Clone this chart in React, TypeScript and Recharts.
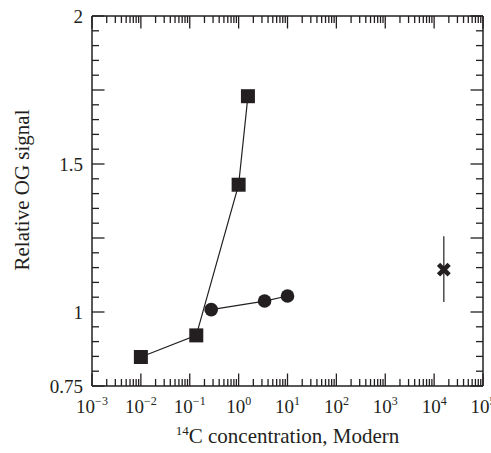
import { ScatterChart, Scatter, XAxis, YAxis, ErrorBar } from 'recharts'

const INK = '#231f20'
const FONT = '"Liberation Serif", "Times New Roman", serif'

// squares, joined by a line
const squareX = [0.01, 0.136, 1.0, 1.55]
const squareY = [0.848, 0.921, 1.43, 1.729]

// circles, joined by a line
const circleX = [0.275, 3.4, 10]
const circleY = [1.008, 1.037, 1.054]

// single cross with vertical error bar
const crossX = [15800]
const crossY = [1.143]
const crossErr = [[0.109, 0.113]]

// axis ticks
const xDecades = [-3, -2, -1, 0, 1, 2, 3, 4, 5]
const xTickLabels = ['\u22123', '\u22122', '\u22121', '0', '1', '2', '3', '4', '5']
const yTickValues = [0.75, 1, 1.5, 2]
const yTickLabels = ['0.75', '1', '1.5', '2']

const squareData = squareX.map((x, i) => ({ x, y: squareY[i] }))
const circleData = circleX.map((x, i) => ({ x, y: circleY[i] }))
const crossData = crossX.map((x, i) => ({ x, y: crossY[i], err: crossErr[i] }))

const xTicks: number[] = []
xDecades.forEach((d, i) => {
  if (i === xDecades.length - 1) {
    xTicks.push(Math.pow(10, d))
    return
  }
  for (let m = 1; m <= 9; m++) xTicks.push(m * Math.pow(10, d))
})

const yTicks = Array.from({ length: 26 }, (_, i) => +(0.75 + i * 0.05).toFixed(2))

const MAJOR = 12.5
const MINOR = 7

function isDecade(v: number) {
  const e = Math.log10(v)
  return Math.abs(e - Math.round(e)) < 1e-6
}

function isQuarter(v: number) {
  return Math.abs(v * 4 - Math.round(v * 4)) < 1e-6
}

function BottomTick(props: any) {
  const { x, y, payload } = props
  const v = payload.value
  const major = isDecade(v)
  const len = major ? MAJOR : MINOR
  const idx = xDecades.indexOf(Math.round(Math.log10(v)))
  return (
    <g>
      <line x1={x} y1={y} x2={x} y2={y - len} stroke={INK} strokeWidth={1.3} />
      {major && idx >= 0 && (
        <text x={x} y={y + 27} textAnchor="middle" fontFamily={FONT} fontSize={19} fill={INK}>
          10
          <tspan fontSize={12} dy={-8}>
            {xTickLabels[idx]}
          </tspan>
        </text>
      )}
    </g>
  )
}

function TopTick(props: any) {
  const { x, y, payload } = props
  const len = isDecade(payload.value) ? MAJOR : MINOR
  return <line x1={x} y1={y} x2={x} y2={y + len} stroke={INK} strokeWidth={1.3} />
}

function LeftTick(props: any) {
  const { x, y, payload } = props
  const v = payload.value
  const len = isQuarter(v) ? MAJOR : MINOR
  const idx = yTickValues.findIndex((t) => Math.abs(t - v) < 1e-6)
  return (
    <g>
      <line x1={x} y1={y} x2={x + len} y2={y} stroke={INK} strokeWidth={1.3} />
      {idx >= 0 && (
        <text x={x - 9} y={y} dy="0.36em" textAnchor="end" fontFamily={FONT} fontSize={19} fill={INK}>
          {yTickLabels[idx]}
        </text>
      )}
    </g>
  )
}

function RightTick(props: any) {
  const { x, y, payload } = props
  const len = isQuarter(payload.value) ? MAJOR : MINOR
  return <line x1={x} y1={y} x2={x - len} y2={y} stroke={INK} strokeWidth={1.3} />
}

function SquareShape(props: any) {
  const { cx, cy } = props
  return <rect x={cx - 7} y={cy - 7} width={14} height={14} fill={INK} />
}

function CircleShape(props: any) {
  const { cx, cy } = props
  return <circle cx={cx} cy={cy} r={6.8} fill={INK} />
}

function CrossShape(props: any) {
  const { cx, cy } = props
  const s = 5.3
  return (
    <g stroke={INK} strokeWidth={4.6}>
      <line x1={cx - s} y1={cy - s} x2={cx + s} y2={cy + s} />
      <line x1={cx - s} y1={cy + s} x2={cx + s} y2={cy - s} />
    </g>
  )
}

const axisLine = { stroke: INK, strokeWidth: 1.5 }

export default function App() {
  return (
    <div style={{ position: 'absolute', left: 0, top: 0, background: '#fff' }}>
      <ScatterChart width={491} height={453} margin={{ top: 15, right: 7, bottom: 27, left: 32 }}>
        <XAxis
          dataKey="x"
          type="number"
          scale="log"
          domain={[1e-3, 1e5]}
          allowDataOverflow
          ticks={xTicks}
          interval={0}
          tick={<BottomTick />}
          tickLine={false}
          tickSize={0}
          tickMargin={0}
          axisLine={axisLine}
          height={40}
        />
        <XAxis
          xAxisId="top"
          orientation="top"
          dataKey="x"
          type="number"
          scale="log"
          domain={[1e-3, 1e5]}
          allowDataOverflow
          ticks={xTicks}
          interval={0}
          tick={<TopTick />}
          tickLine={false}
          tickSize={0}
          tickMargin={0}
          axisLine={axisLine}
          height={1}
        />
        <YAxis
          dataKey="y"
          type="number"
          domain={[0.75, 2]}
          allowDataOverflow
          ticks={yTicks}
          interval={0}
          tick={<LeftTick />}
          tickLine={false}
          tickSize={0}
          tickMargin={0}
          axisLine={axisLine}
          width={60}
        />
        <YAxis
          yAxisId="right"
          orientation="right"
          dataKey="y"
          type="number"
          domain={[0.75, 2]}
          allowDataOverflow
          ticks={yTicks}
          interval={0}
          tick={<RightTick />}
          tickLine={false}
          tickSize={0}
          tickMargin={0}
          axisLine={axisLine}
          width={1}
        />
        <Scatter
          data={squareData}
          line={{ stroke: INK, strokeWidth: 1.2 }}
          shape={<SquareShape />}
          isAnimationActive={false}
        />
        <Scatter
          data={circleData}
          line={{ stroke: INK, strokeWidth: 1.2 }}
          shape={<CircleShape />}
          isAnimationActive={false}
        />
        <Scatter data={crossData} shape={<CrossShape />} isAnimationActive={false}>
          <ErrorBar dataKey="err" direction="y" width={0} stroke={INK} strokeWidth={1.2} isAnimationActive={false} />
        </Scatter>
        <text
          x={22}
          y={190}
          transform="rotate(-90 22 190)"
          textAnchor="middle"
          dominantBaseline="central"
          fontFamily={FONT}
          fontSize={21}
          fill={INK}
        >
          Relative OG signal
        </text>
        <text x={287.5} y={443} textAnchor="middle" fontFamily={FONT} fontSize={21} fill={INK}>
          <tspan fontSize={13} dy={-8}>
            14
          </tspan>
          <tspan dy={8}>C concentration, Modern</tspan>
        </text>
      </ScatterChart>
    </div>
  )
}
